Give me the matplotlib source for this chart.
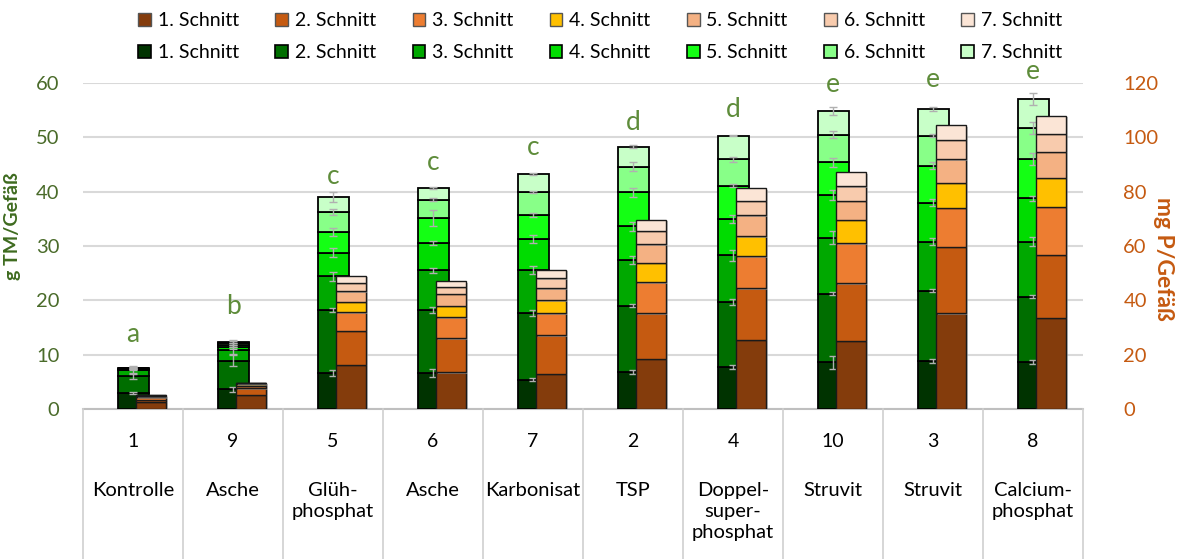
import matplotlib.pyplot as plt
import matplotlib.patches as mpatches
import matplotlib.patheffects as pe
import numpy as np

plt.rcParams['font.family'] = ['Lato', 'DejaVu Sans']

nums = ['1', '9', '5', '6', '7', '2', '4', '10', '3', '8']
names = ['Kontrolle', 'Asche', 'Glüh-\nphosphat', 'Asche', 'Karbonisat', 'TSP',
         'Doppel-\nsuper-\nphosphat', 'Struvit', 'Struvit', 'Calcium-\nphosphat']
letters = ['a', 'b', 'c', 'c', 'c', 'd', 'd', 'e', 'e', 'e']
letter_y = [13.7, 18.9, 42.8, 45.3, 48.1, 52.7, 55.1, 59.7, 60.6, 62.1]
schnitte = ['1. Schnitt', '2. Schnitt', '3. Schnitt', '4. Schnitt',
            '5. Schnitt', '6. Schnitt', '7. Schnitt']

# g TM/Gefäß per cut (green, left axis)
tm_s1 = [2.9, 3.6, 6.6, 6.6, 5.4, 6.8, 7.7, 8.6, 8.8, 8.7]
tm_s2 = [3.1, 5.3, 11.6, 11.6, 12.3, 12.2, 12.0, 12.6, 13.0, 12.0]
tm_s3 = [1.1, 1.9, 6.2, 7.3, 7.9, 8.4, 8.6, 10.3, 9.0, 10.1]
tm_s4 = [0.25, 0.6, 4.4, 5.0, 5.7, 6.2, 6.7, 7.9, 7.2, 8.0]
tm_s5 = [0.15, 0.4, 3.8, 4.7, 4.4, 6.3, 6.1, 6.0, 6.8, 7.2]
tm_s6 = [0.05, 0.35, 3.7, 3.3, 4.2, 4.7, 4.9, 5.1, 5.5, 5.8]
tm_s7 = [0.05, 0.25, 2.7, 2.2, 3.3, 3.7, 4.3, 4.3, 4.9, 5.3]

tm_err1 = [0.2, 0.4, 0.5, 0.7, 0.25, 0.35, 0.35, 1.2, 0.4, 0.4]
tm_err2 = [0.4, 1.0, 0.4, 0.5, 0.6, 0.3, 0.6, 0.25, 0.2, 0.25]
tm_err3 = [0.4, 0.6, 0.8, 0.5, 0.8, 0.75, 1.0, 1.2, 0.6, 0.85]
tm_err4 = [0.2, 0.3, 0.9, 0.4, 0.8, 0.75, 0.75, 1.0, 0.7, 0.45]
tm_err5 = [0.2, 0.3, 0.7, 1.5, 0.35, 0.8, 0.3, 0.8, 0.7, 1.1]
tm_err6 = [0.2, 0.3, 0.6, 0.3, 0.15, 0.8, 0.45, 0.6, 0.3, 1.1]
tm_err7 = [0.3, 0.3, 0.9, 0.2, 0.2, 0.2, 0.1, 0.7, 0.4, 1.1]

# mg P/Gefäß per cut (brown, right axis)
p_s1 = [2.6, 5.2, 16.3, 13.5, 12.9, 18.4, 25.4, 25.2, 35.2, 33.5]
p_s2 = [0.9, 2.4, 12.5, 12.6, 14.3, 16.9, 19.1, 21.1, 24.4, 23.2]
p_s3 = [0.8, 1.0, 6.8, 7.6, 8.0, 11.3, 11.7, 14.7, 14.4, 17.7]
p_s4 = [0.4, 0.5, 3.9, 4.2, 4.8, 7.3, 7.4, 8.6, 9.2, 10.6]
p_s5 = [0.2, 0.3, 3.9, 4.4, 4.5, 6.8, 7.7, 7.0, 8.7, 9.7]
p_s6 = [0.1, 0.2, 3.1, 2.6, 3.6, 4.9, 5.3, 5.4, 7.1, 6.7]
p_s7 = [0.05, 0.1, 2.5, 2.1, 3.2, 4.0, 4.6, 5.1, 5.5, 6.5]

tm = [tm_s1, tm_s2, tm_s3, tm_s4, tm_s5, tm_s6, tm_s7]
tm_err = [tm_err1, tm_err2, tm_err3, tm_err4, tm_err5, tm_err6, tm_err7]
p = [p_s1, p_s2, p_s3, p_s4, p_s5, p_s6, p_s7]

greens = ['#003300', '#006E00', '#00A800', '#00DC00', '#14FF14', '#88FF88', '#C8FFC8']
browns = ['#843C0C', '#C55A11', '#ED7D31', '#FFC000', '#F4B183', '#F8CBAD', '#FBE5D6']
c_left = '#4A6B2A'
c_letter = '#5E8C3A'
c_right = '#C55A11'

fig = plt.figure(figsize=(11.79, 5.59), dpi=100)
ax = fig.add_axes([0.0704, 0.2683, 0.8482, 0.5832])
ax2 = ax.twinx()

x = np.arange(len(nums))

bottom = np.zeros(len(x))
for i in range(7):
    ax.bar(x, tm[i], 0.31, bottom=bottom, color=greens[i], edgecolor='black',
           linewidth=1.3, zorder=2)
    bottom = bottom + np.array(tm[i])
    ax.errorbar(x, bottom, yerr=tm_err[i], fmt='none', ecolor='#B0B0B0',
                elinewidth=1, capsize=3, capthick=1, zorder=3)

for xi, t, yy in zip(x, letters, letter_y):
    ax.text(xi, yy, t, ha='center', va='center', fontsize=19, color=c_letter)

bottom = np.zeros(len(x))
shadow = [pe.SimplePatchShadow(offset=(1.5, -1), shadow_rgbFace='#9A9A9A', alpha=0.6), pe.Normal()]
for i in range(7):
    ax2.bar(x + 0.18, p[i], 0.30, bottom=bottom, color=browns[i], edgecolor='#1a1a1a',
            linewidth=1.0, zorder=2, path_effects=shadow)
    bottom = bottom + np.array(p[i])

ax.set_xlim(-0.5, 9.5)
ax.set_ylim(0, 60)
ax2.set_ylim(0, 120)
ax.set_yticks(range(0, 61, 10))
ax2.set_yticks(range(0, 121, 20))
ax.set_xticks([])
ax.grid(axis='y', color='#D9D9D9', linewidth=1.5, zorder=0)
ax.set_axisbelow(True)
for a in (ax, ax2):
    for s in a.spines.values():
        s.set_visible(False)
ax.tick_params(axis='y', length=0, pad=17, labelsize=14.5, labelcolor=c_left)
ax2.tick_params(axis='y', length=0, pad=29, labelsize=14.5, labelcolor=c_right)
ax.set_ylabel('g TM/Gefäß', fontsize=14, fontweight='bold', color='#3E6B1F')
ax2.set_ylabel('mg P/Gefäß', fontsize=16.5, fontweight='bold', color=c_right,
               rotation=270, va='center')
ax.yaxis.set_label_coords(-0.062, 0.56)
ax2.yaxis.set_label_coords(1.080, 0.46)

# category table below the axis
ax.plot([-0.5, 9.5], [0, 0], color='#BFBFBF', linewidth=1.5, clip_on=False, zorder=1)
for b in np.arange(-0.5, 10, 1):
    ax.plot([b, b], [0, -27.6], color='#D0D0D0', linewidth=1.2, clip_on=False)
for xi, n, nm in zip(x, nums, names):
    ax.text(xi, -5.9, n, ha='center', va='center', fontsize=14, color='black')
    ax.text(xi, -13.4, nm, ha='center', va='top', fontsize=14.5, color='black',
            linespacing=1.3)

h_brown = [mpatches.Patch(facecolor=c, edgecolor='#555555') for c in browns]
h_green = [mpatches.Patch(facecolor=c, edgecolor='black', linewidth=1.2) for c in greens]
kw = dict(ncol=7, frameon=False, fontsize=14, handlelength=0.65, handleheight=0.65,
          handletextpad=0.35, columnspacing=1.88, loc='center')
fig.legend(h_brown, schnitte, bbox_to_anchor=(0.509, 0.963), **kw)
fig.legend(h_green, schnitte, bbox_to_anchor=(0.509, 0.906), **kw)

fig.savefig('out.png', dpi=100)
